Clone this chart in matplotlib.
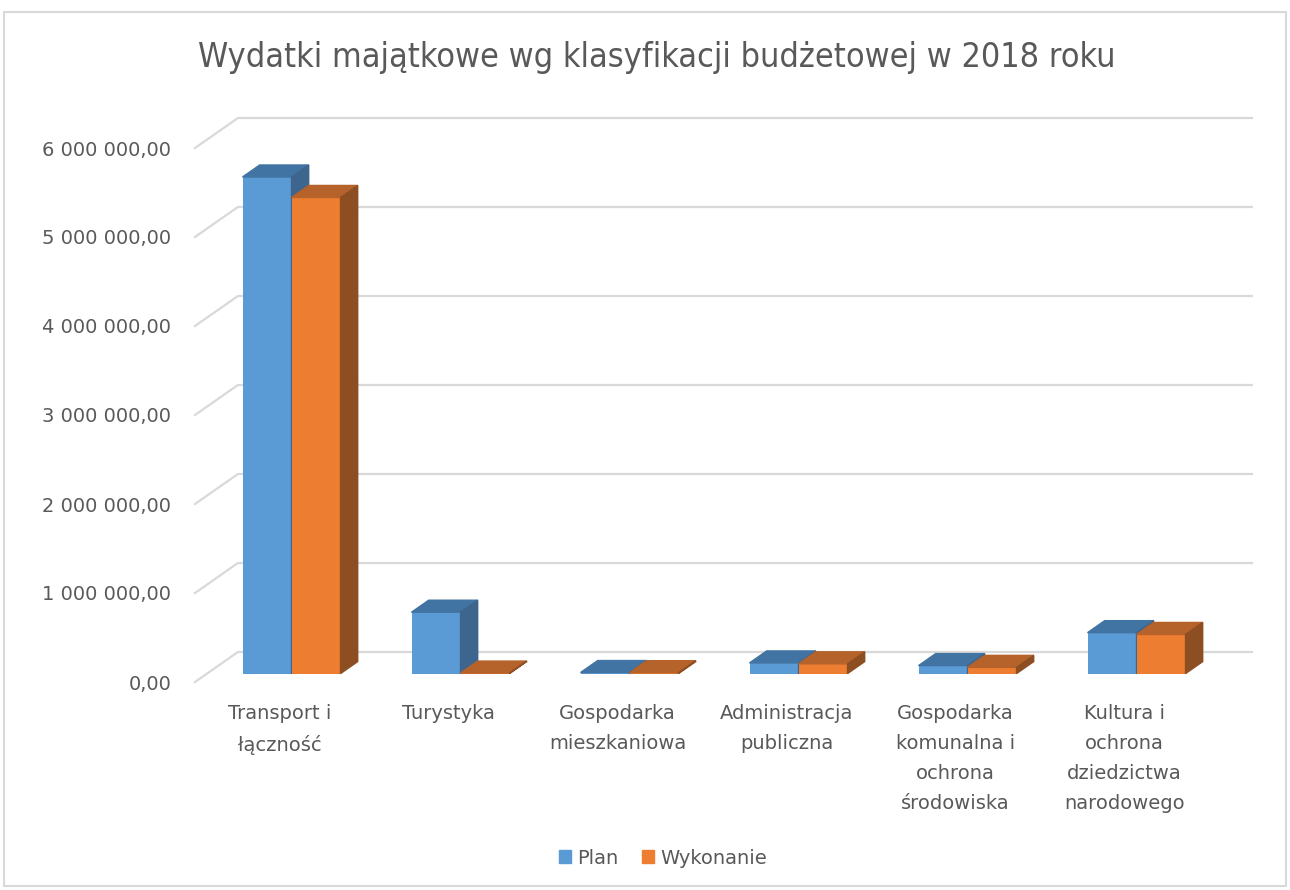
import matplotlib
matplotlib.use("Agg")
import matplotlib.pyplot as plt
from matplotlib import font_manager
from matplotlib.patches import Polygon, Rectangle
import numpy as np

# data (PLN)
categories = ["Transport i\nłączność", "Turystyka", "Gospodarka\nmieszkaniowa",
              "Administracja\npubliczna", "Gospodarka\nkomunalna i\nochrona\nśrodowiska",
              "Kultura i\nochrona\ndziedzictwa\nnarodowego"]
plan = [5580000, 690000, 12000, 120000, 90000, 460000]
wykonanie = [5350000, 6000, 10000, 110000, 70000, 440000]
yticks = [0, 1000000, 2000000, 3000000, 4000000, 5000000, 6000000]
series = ["Plan", "Wykonanie"]

plt.rcParams['font.family'] = ['DejaVu Sans']

# regular condensed face for the title if the system has one
cond = [f for f in font_manager.fontManager.ttflist
        if ('Condensed' in f.fname or 'Narrow' in f.fname)
        and f.weight in (400, 'normal', 'regular') and f.style == 'normal']
cond.sort(key=lambda f: 'DejaVuSansCondensed.ttf' not in f.fname)
if cond:
    title_font = font_manager.FontProperties(fname=cond[0].fname, size=24.5)
else:
    title_font = font_manager.FontProperties(family='DejaVu Sans', size=22)

txt = '#595959'
grid_c = '#d9d9d9'
face = {"Plan": ('#5b9bd5', '#4174a3', '#3d658e'),
        "Wykonanie": ('#ed7d31', '#b5622b', '#8d4f22')}

fig = plt.figure(figsize=(12.9, 8.9), dpi=100)
ax = fig.add_axes([195/1290, 1 - 682/890, 1014/1290, 534/890])

n = len(categories)
ax.set_xlim(-0.5, n - 0.5)
ax.set_ylim(0, 6000000)

# depth of the 3d box in data units
Dx, Dy = 0.254, 337000
f0, f1 = 0.28, 0.68
bw = 0.29

# perspective gridlines
for v in yticks:
    ax.plot([-0.5, -0.5 + Dx, n - 0.5 + Dx], [v, v + Dy, v + Dy],
            color=grid_c, lw=1.6, clip_on=False, zorder=1)

x = np.arange(n)
base = f0 * Dy
bdx, bdy = (f1 - f0) * Dx, (f1 - f0) * Dy
for i in range(n):
    for s, vals, sign in ((series[0], plan, -1), (series[1], wykonanie, 0)):
        h = vals[i]
        x0 = x[i] + f0 * Dx + sign * bw
        x1 = x0 + bw
        front, top, side = face[s]
        ax.bar(x0, h, width=bw, bottom=base, align='edge', color=front,
               zorder=3, clip_on=False)
        ax.add_patch(Polygon([(x0, base + h), (x1, base + h), (x1 + bdx, base + h + bdy),
                              (x0 + bdx, base + h + bdy)], closed=True, color=top,
                             zorder=3, clip_on=False))
        ax.add_patch(Polygon([(x1, base), (x1, base + h), (x1 + bdx, base + h + bdy),
                              (x1 + bdx, base + bdy)], closed=True, color=side,
                             zorder=3, clip_on=False))

def pl_fmt(v):
    return f"{v:,.2f}".replace(",", " ").replace(".", ",")

ax.set_yticks(yticks)
ax.set_yticklabels([pl_fmt(v) for v in yticks], color=txt, fontsize=14)
ax.set_xticks(x)
ax.set_xticklabels(categories, color=txt, fontsize=14, linespacing=1.72, va='top')
ax.tick_params(length=0)
ax.tick_params(axis='y', pad=17)
ax.tick_params(axis='x', pad=16)
for sp in ax.spines.values():
    sp.set_visible(False)
ax.patch.set_visible(False)

fig.text(0.509, 1 - 57/890, "Wydatki majątkowe wg klasyfikacji budżetowej w 2018 roku",
         ha='center', va='center', fontproperties=title_font, color=txt)

handles = [Rectangle((0, 0), 1, 1, color=face[s][0]) for s in series]
fig.legend(handles, series, loc='center', bbox_to_anchor=(663/1290, 1 - 858/890),
           ncol=2, frameon=False, fontsize=14, labelcolor=txt, handlelength=0.6,
           handleheight=0.6, handletextpad=0.35, columnspacing=1.2)

fig.add_artist(Rectangle((4/1290, 1 - 886/890), 1282/1290, 874/890, transform=fig.transFigure,
                         fill=False, edgecolor=grid_c, lw=1.5))

fig.savefig("out.png", dpi=100)
